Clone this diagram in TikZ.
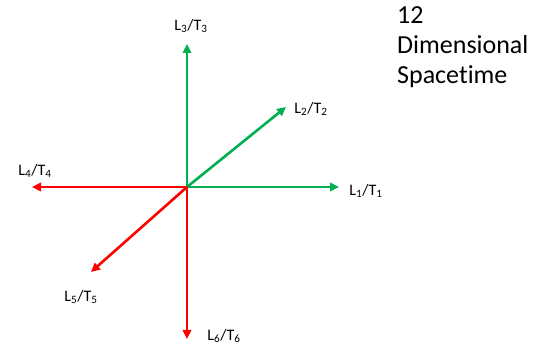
\documentclass[tikz,border=0pt]{standalone}
\usepackage{fontspec}
\setmainfont[Ligatures=NoCommon]{Carlito}
\usetikzlibrary{positioning, arrows.meta}
\definecolor{axgreen}{RGB}{0,176,80}
\definecolor{axred}{RGB}{255,0,0}
\newcommand{\axlab}[1]{L\textsubscript{#1}/T\textsubscript{#1}}

\begin{document}
\begin{tikzpicture}[x=1pt, y=-1pt, line join=round,
    axis/.style={line width=2.6pt, -{Triangle[length=9pt,width=8.5pt]}},
    lbl/.style={font=\fontsize{16}{18}\selectfont, inner sep=0pt}]

    \useasboundingbox (0,0) rectangle (533,347);

    % centre and arrow ends
    \coordinate (o) at (187,187);
    \coordinate (e1) at (339,187);
    \coordinate (e2) at (286,107);
    \coordinate (e3) at (187,44);
    \coordinate (e4) at (32,187);
    \coordinate (e5) at (91,272);
    \coordinate (e6) at (187,339);

    % green axes
    \draw[axis, axgreen] (o) -- (e1);
    \draw[axis, axgreen] (o) -- (e2);
    \draw[axis, axgreen] (o) -- (e3);

    % red axes
    \draw[axis, axred] (o) -- (e4);
    \draw[axis, axred] (o) -- (e5);
    \draw[axis, axred] (o) -- (e6);

    % labels
    \node[lbl] (l1) at (366,191) {\axlab{1}};
    \node[lbl] (l2) at (311,109) {\axlab{2}};
    \node[lbl] (l3) at (191,26) {\axlab{3}};
    \node[lbl] (l4) at (35,171) {\axlab{4}};
    \node[lbl] (l5) at (81,297) {\axlab{5}};
    \node[lbl] (l6) at (224,336) {\axlab{6}};

    % title
    \node[anchor=north west, align=left, inner sep=0pt,
          font=\fontsize{26}{30}\selectfont] (title) at (397,6)
          {12\\Dimensional\\Spacetime};
\end{tikzpicture}
\end{document}
